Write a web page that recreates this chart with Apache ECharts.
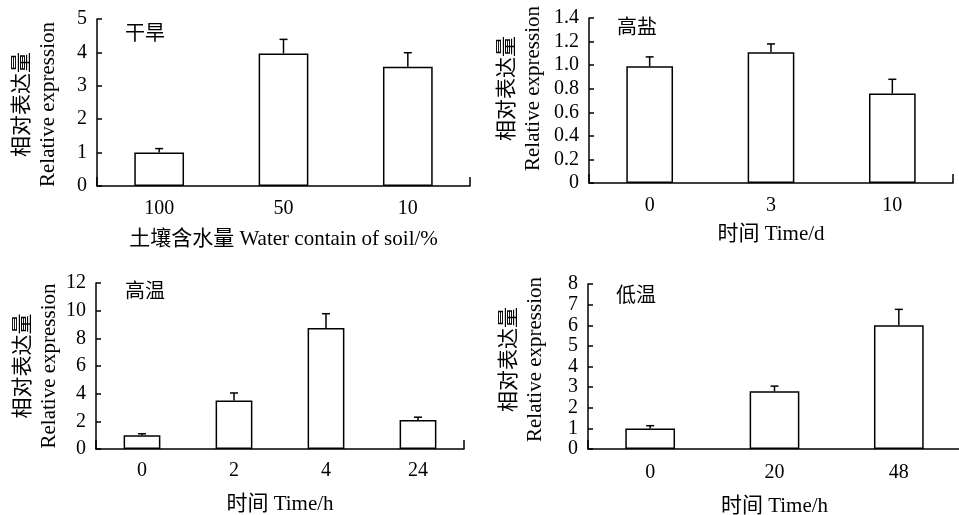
<!DOCTYPE html>
<html><head><meta charset="utf-8">
<script src="https://cdn.jsdelivr.net/npm/echarts@6/dist/echarts.min.js"></script>
<style>html,body{margin:0;padding:0;background:#fff}#c{width:959px;height:515px}</style>
</head><body><div id="c"></div>
<script>
// ---- data ----
const droughtCats = ['100', '50', '10'];
const droughtVals = [1.0, 3.97, 3.57];
const droughtErr  = [0.12, 0.42, 0.42];

const saltCats = ['0', '3', '10'];
const saltVals = [0.99, 1.11, 0.76];
const saltErr  = [0.08, 0.07, 0.12];

const heatCats = ['0', '2', '4', '24'];
const heatVals = [1.0, 3.5, 8.75, 2.1];
const heatErr  = [0.1, 0.55, 1.03, 0.2];

const coldCats = ['0', '20', '48'];
const coldVals = [1.0, 2.8, 6.0];
const coldErr  = [0.13, 0.25, 0.77];

const panelTitles = ['干旱', '高盐', '高温', '低温'];
const xNames = ['土壤含水量 Water contain of soil/%', '时间 Time/d', '时间 Time/h', '时间 Time/h'];
const yName = '相对表达量\nRelative expression';
const yMax = [5, 1.4, 12, 8];
const yInterval = [1, 0.2, 2, 1];

const FONT = "'Liberation Serif', 'Times New Roman', 'Noto Sans CJK SC', serif";
const panels = [
  {cats: droughtCats, vals: droughtVals, err: droughtErr},
  {cats: saltCats, vals: saltVals, err: saltErr},
  {cats: heatCats, vals: heatVals, err: heatErr},
  {cats: coldCats, vals: coldVals, err: coldErr}
];
const grids = [
  {left: 97, top: 19, width: 373, height: 167, outerBoundsMode: 'none', containLabel: false},
  {left: 589, top: 18, width: 364, height: 165, outerBoundsMode: 'none', containLabel: false},
  {left: 96, top: 283, width: 368, height: 166, outerBoundsMode: 'none', containLabel: false},
  {left: 588, top: 284, width: 373, height: 165, outerBoundsMode: 'none', containLabel: false}
];
const labelMargin = [13, 13, 12, 14];
const xNameGap = [43, 41, 45, 47];
const yNameGap = [36, 43, 33, 40];
const yNamePad = [[0,4,0,0],[0,0,0,24],[0,0,0,0],[0,0,0,14]];
const titlePos = [{left: 120, top: 20}, {left: 612, top: 14}, {left: 120, top: 278}, {left: 611, top: 282}];

const black = '#000';
const xAxes = [], yAxes = [], series = [], titles = [];
panels.forEach((p, i) => {
  xAxes.push({
    type: 'category', gridIndex: i, data: p.cats,
    axisLine: {lineStyle: {color: black, width: 1.5}},
    axisTick: {show: false},
    axisLabel: {color: black, fontFamily: FONT, fontSize: 20, margin: labelMargin[i]},
    name: xNames[i], nameLocation: 'middle', nameGap: xNameGap[i],
    nameTextStyle: {color: black, fontFamily: FONT, fontSize: 21}
  });
  yAxes.push({
    type: 'value', gridIndex: i, min: 0, max: yMax[i], interval: yInterval[i],
    axisLine: {show: true, lineStyle: {color: black, width: 1.5}},
    axisTick: {show: true, inside: true, length: 5, lineStyle: {color: black, width: 1.5}},
    splitLine: {show: false},
    axisLabel: {color: black, fontFamily: FONT, fontSize: 20, margin: 10,
      formatter: v => (i === 1 ? (v === 0 ? '0' : v.toFixed(1)) : String(v))},
    name: yName, nameLocation: 'middle', nameGap: yNameGap[i],
    nameTextStyle: {color: black, fontFamily: FONT, fontSize: 21, lineHeight: 26, padding: yNamePad[i]}
  });
  titles.push({text: panelTitles[i], left: titlePos[i].left, top: titlePos[i].top,
    textStyle: {fontFamily: FONT, fontSize: 20, fontWeight: 'normal', color: black}});
  series.push({
    type: 'bar', xAxisIndex: i, yAxisIndex: i, data: p.vals, barWidth: i === 1 ? '38.5%' : '40%',
    itemStyle: {color: '#fff', borderColor: black, borderWidth: 1.5}, silent: true
  });
  series.push({
    type: 'custom', xAxisIndex: i, yAxisIndex: i,
    data: p.vals.map((v, k) => [k, v, p.err[k]]),
    renderItem: (params, api) => {
      const idx = api.value(0), v = api.value(1), e = api.value(2);
      const base = api.coord([idx, v]);
      const top = api.coord([idx, v + e]);
      return {type: 'group', children: [
        {type: 'line', shape: {x1: base[0], y1: base[1], x2: top[0], y2: top[1]}, style: {stroke: black, lineWidth: 1.5}},
        {type: 'line', shape: {x1: top[0] - 4, y1: top[1], x2: top[0] + 4, y2: top[1]}, style: {stroke: black, lineWidth: 1.5}}
      ]};
    }, z: 3, silent: true
  });
});
// extra invisible value axes that only draw the small end tick at the right of each x axis
panels.forEach((p, i) => {
  xAxes.push({
    type: 'value', gridIndex: i, min: 0, max: 1, interval: 1, position: 'bottom',
    axisLine: {show: false}, axisLabel: {show: false}, splitLine: {show: false},
    axisTick: {show: true, inside: true, length: 9, lineStyle: {color: black, width: 1.5}}
  });
});

const chart = echarts.init(document.getElementById('c'), null, {renderer: 'canvas'});
chart.setOption({
  animation: false, backgroundColor: '#fff',
  title: titles, grid: grids, xAxis: xAxes, yAxis: yAxes, series: series
});
</script></body></html>
